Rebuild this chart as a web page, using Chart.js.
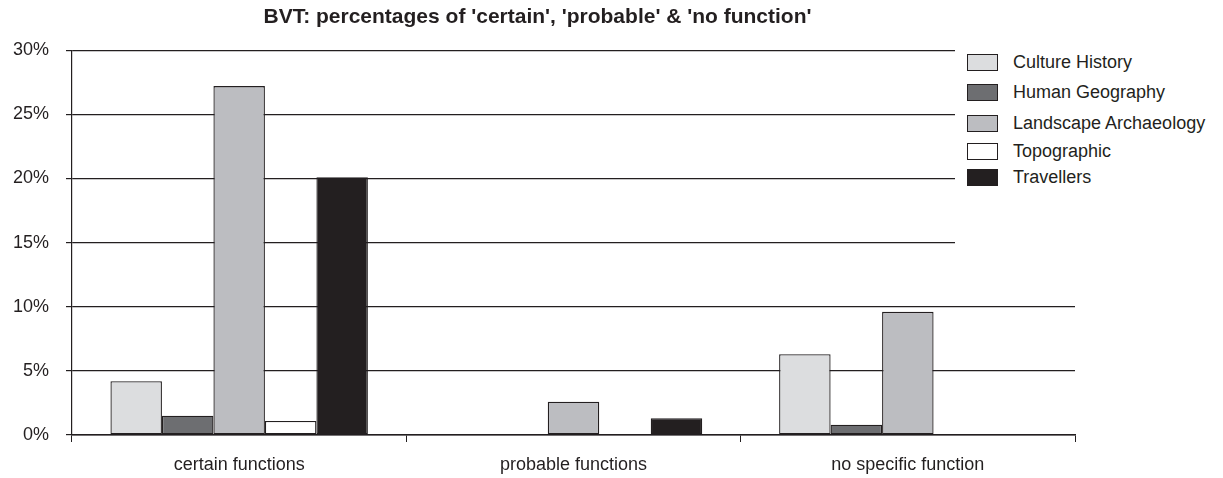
<!DOCTYPE html>
<html>
<head>
<meta charset="utf-8">
<script src="https://cdn.jsdelivr.net/npm/chart.js@4/dist/chart.umd.min.js"></script>
<style>
  body { margin: 0; background: #fff; }
  #wrap { position: relative; width: 1223px; height: 478px; }
  #legend {
    position: absolute; left: 955px; top: 40px; width: 268px; height: 210px;
    background: #fff; font-family: "Liberation Sans", Arial, sans-serif; font-size: 18px; color: #231f20;
  }
  .row { position: absolute; left: 12px; height: 20px; line-height: 20px; white-space: nowrap; }
  .sw { position: absolute; left: 0; top: 2px; width: 31px; height: 17px; border: 1.3px solid #231f20; box-sizing: border-box; }
  .lbl { position: absolute; left: 46px; top: 0; }
</style>
</head>
<body>
<div id="wrap">
  <canvas id="myChart" width="1223" height="478"></canvas>
  <div id="legend"></div>
</div>
<script>
var categories = ["certain functions", "probable functions", "no specific function"];
var seriesNames = ["Culture History", "Human Geography", "Landscape Archaeology", "Topographic", "Travellers"];
var cultureHistory = [4.2, 0, 6.3];
var humanGeography = [1.5, 0, 0.8];
var landscapeArchaeology = [27.2, 2.6, 9.6];
var topographic = [1.1, 0, 0];
var travellers = [20.1, 1.3, 0];
var yTicks = [0, 5, 10, 15, 20, 25, 30];

var fillColors = ["#dcdddf", "#6d6e71", "#bcbdc1", "#ffffff", "#231f20"];
var allValues = [cultureHistory, humanGeography, landscapeArchaeology, topographic, travellers];

var datasets = [];
for (var i = 0; i < seriesNames.length; i++) {
  datasets.push({
    label: seriesNames[i],
    data: allValues[i],
    backgroundColor: fillColors[i],
    borderColor: "#231f20",
    borderWidth: 1.3,
    borderSkipped: false,
    categoryPercentage: 0.77,
    barPercentage: 1.0
  });
}

var font = { family: "'Liberation Sans', Arial, sans-serif", size: 18 };

var ctx = document.getElementById("myChart").getContext("2d");
var myChart = new Chart(ctx, {
  type: "bar",
  data: { labels: categories, datasets: datasets },
  options: {
    responsive: false,
    animation: false,
    layout: { padding: { left: 0, right: 148, top: 0, bottom: 0 } },
    plugins: {
      legend: { display: false },
      tooltip: { enabled: false },
      title: {
        display: true,
        text: "BVT: percentages of 'certain', 'probable' & 'no function'",
        color: "#231f20",
        font: { family: font.family, size: 21, weight: "bold" },
        padding: { top: 5, bottom: 20 }
      }
    },
    scales: {
      x: {
        grid: { drawOnChartArea: false, drawTicks: true, tickLength: 7, color: "#231f20" },
        border: { color: "#231f20", width: 1.5 },
        ticks: { color: "#231f20", font: font, padding: 12 },
        afterFit: function (scale) { scale.height = 43; }
      },
      y: {
        min: 0,
        max: 30,
        afterBuildTicks: function (scale) {
          scale.ticks = yTicks.map(function (v) { return { value: v }; });
        },
        grid: { color: "#231f20", lineWidth: 1.2, tickLength: 6 },
        border: { color: "#231f20", width: 1.2 },
        ticks: {
          color: "#231f20",
          font: font,
          padding: 17,
          callback: function (v) { return v + "%"; }
        },
        afterFit: function (scale) { scale.width = 72; }
      }
    }
  }
});

// legend rows are not evenly spaced in the original
var legendTops = [12, 42, 73, 101, 127];
var legend = document.getElementById("legend");
for (var j = 0; j < seriesNames.length; j++) {
  var row = document.createElement("div");
  row.className = "row";
  row.style.top = legendTops[j] + "px";
  row.innerHTML = '<span class="sw" style="background:' + fillColors[j] + '"></span><span class="lbl">' + seriesNames[j] + "</span>";
  legend.appendChild(row);
}
</script>
</body>
</html>
